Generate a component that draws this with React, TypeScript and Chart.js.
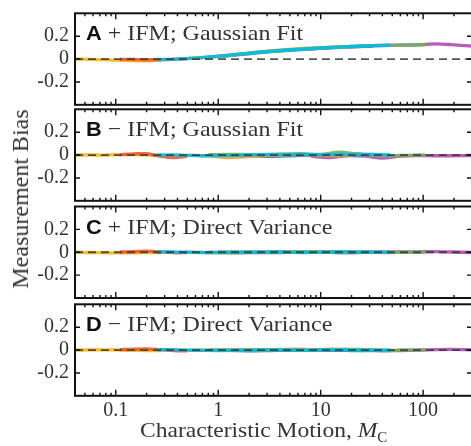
import { useEffect, useRef } from "react";
import { Chart, registerables } from "chart.js";
Chart.register(...registerables);

// ---- axis ticks ----
const xMin = 0.04;
const xMax = 300;
const xMajorTicks = [0.1, 1, 10, 100];
const xTickLabels = ["0.1", "1", "10", "100"];
const xMinorTicks = [
  0.05, 0.06, 0.07, 0.08, 0.09,
  0.2, 0.3, 0.4, 0.5, 0.6, 0.7, 0.8, 0.9,
  2, 3, 4, 5, 6, 7, 8, 9,
  20, 30, 40, 50, 60, 70, 80, 90,
  200, 300,
];
const yMin = -0.4;
const yMax = 0.4;
const yTicks = [-0.2, 0, 0.2];
const yTickLabels = ["-0.2", "0", "0.2"];

// ---- panels ----
const panelLetters = ["A", "B", "C", "D"];
const panelTexts = [" + IFM; Gaussian Fit", " \u2212 IFM; Gaussian Fit", " + IFM; Direct Variance", " \u2212 IFM; Direct Variance"];

// ---- series (drawn top-first) ----
const seriesNames = ["cyan", "green", "red", "yellow", "orange", "blue", "magenta"];
const seriesColors = [
  "rgba(0,189,232,0.9)",
  "rgba(114,181,90,0.9)",
  "rgba(238,90,42,0.9)",
  "rgba(253,181,21,0.9)",
  "rgba(245,160,35,0.9)",
  "rgba(44,109,201,0.9)",
  "rgba(176,76,179,0.9)",
];
const xCyan = [0.25, 0.35, 0.5, 0.7, 1, 1.5, 2.2, 3.2, 4.7, 7, 10, 15, 22, 32, 48];
const xGreen = [0.8, 1.3, 2, 3, 4.5, 6.5, 10, 15, 22, 32, 48, 70, 105];
const xRed = [0.11, 0.15, 0.2, 0.27, 0.37, 0.5];
const xYellow = [0.04, 0.055, 0.075, 0.1, 0.14, 0.2, 0.28];
const xOrange = [0.5, 0.8, 1.2, 1.8, 2.7, 4, 6, 9, 13, 20];
const xBlue = [1, 1.5, 2.2, 3.2, 4.7, 7, 10, 15, 22, 32];
const xMagenta = [8, 12, 18, 27, 40, 60, 90, 130, 190, 300];
const seriesX = [xCyan, xGreen, xRed, xYellow, xOrange, xBlue, xMagenta];

// Panel A: + IFM; Gaussian Fit
const panelAValues = [
  [-0.004, -0.002, 0.003, 0.012, 0.025, 0.04, 0.055, 0.068, 0.079, 0.088, 0.097, 0.105, 0.112, 0.117, 0.121],
  [0.015, 0.033, 0.05, 0.066, 0.077, 0.086, 0.096, 0.104, 0.111, 0.117, 0.122, 0.124, 0.125],
  [-0.002, -0.004, -0.006, -0.006, -0.003, 0.003],
  [0, -0.002, -0.005, -0.01, -0.014, -0.015, -0.01],
  [0.006, 0.018, 0.032, 0.048, 0.064, 0.078, 0.089, 0.097, 0.104, 0.11],
  [0.022, 0.036, 0.05, 0.064, 0.075, 0.085, 0.094, 0.102, 0.109, 0.114],
  [0.09, 0.099, 0.106, 0.112, 0.117, 0.121, 0.125, 0.132, 0.126, 0.113],
];
// Panel B: - IFM; Gaussian Fit
const panelBValues = [
  [0, 0.002, -0.003, -0.006, -0.005, -0.002, 0.002, 0.004, 0.002, 0.006, 0.003, 0.005, 0.002, 0.006, 0.002],
  [0.003, 0.006, 0.004, 0.006, 0.01, 0.012, 0.006, 0.025, 0.012, -0.002, -0.006, -0.002, 0],
  [0.004, 0.01, 0.012, -0.01, -0.022, -0.01],
  [0, 0.001, 0, 0.003, 0.004, 0.002, -0.003],
  [0, -0.008, -0.022, -0.015, -0.006, -0.002, 0.003, 0, -0.004, 0],
  [0, -0.004, -0.008, -0.012, -0.006, -0.002, 0.002, 0.004, 0.008, 0.004],
  [-0.01, -0.022, -0.006, -0.01, -0.026, -0.01, -0.004, -0.006, -0.006, -0.004],
];
// Panel C: + IFM; Direct Variance
const panelCValues = [
  [0.004, 0.002, 0, -0.002, -0.003, -0.002, 0, 0.002, 0.001, -0.002, 0, 0.002, 0.001, -0.001, 0],
  [0, 0.002, 0.003, 0.001, 0.003, 0.002, 0, 0.002, 0.004, 0.001, -0.002, -0.001, 0],
  [0.002, 0.006, 0.01, 0.004, -0.004, -0.002],
  [0, -0.002, -0.004, -0.006, -0.005, -0.004, -0.002],
  [0, -0.003, -0.005, -0.002, 0.002, 0.004, 0.003, 0.005, 0.002, 0],
  [0, -0.002, -0.004, -0.003, -0.001, 0.001, 0, -0.003, -0.002, 0],
  [0.001, 0, -0.002, 0.001, 0.003, 0.002, 0.004, 0.006, 0.002, -0.002],
];
// Panel D: - IFM; Direct Variance
const panelDValues = [
  [0.003, 0.004, 0, -0.003, -0.005, -0.003, 0, 0.002, 0, -0.002, 0.002, 0.003, -0.002, -0.004, 0],
  [0.001, 0, -0.002, 0.002, 0.004, 0.002, 0.001, 0.004, 0.006, 0.002, -0.002, 0.002, 0],
  [0.003, 0.008, 0.01, 0.004, -0.004, -0.008],
  [0, 0.001, 0.002, 0.001, -0.002, -0.004, -0.005],
  [0, 0, 0.002, 0.004, 0.002, 0.006, 0.008, 0.004, 0.008, 0.004],
  [0, -0.004, -0.006, -0.004, -0.002, 0, -0.003, -0.002, -0.005, -0.002],
  [0, 0.002, 0.003, 0.001, -0.006, -0.004, 0, 0.004, 0.006, 0.002],
];
const panelValues = [panelAValues, panelBValues, panelCValues, panelDValues];

// ---- layout (px) ----
const W = 471;
const H = 446;
const CANVAS_W = 480;
const plotLeft = 75;
const plotRight = 472;
const panelTops = [13.3, 109.3, 206.5, 304.3];
const panelHeight = 91.5;
const xAxisHeight = 30;

const SERIF = '"Liberation Serif", "Times New Roman", Times, serif';
const SANS = '"Liberation Sans", Arial, Helvetica, sans-serif';

function makeFramePlugin(idx: number) {
  return {
    id: "frame" + idx,
    afterDatasetsDraw(chart: any) {
      const { ctx, chartArea } = chart;
      const { left, right, top, bottom } = chartArea;
      const xs = chart.scales.x;
      const ys = chart.scales.y;
      ctx.save();
      // zero reference line
      const y0 = ys.getPixelForValue(0);
      ctx.strokeStyle = "rgba(55,55,55,0.85)";
      ctx.lineWidth = 1.8;
      ctx.setLineDash([8, 5]);
      ctx.beginPath();
      ctx.moveTo(left, y0);
      ctx.lineTo(right, y0);
      ctx.stroke();
      ctx.setLineDash([]);
      // inward ticks
      ctx.strokeStyle = "#111";
      ctx.lineWidth = 1.4;
      ctx.beginPath();
      const addX = (v: number, len: number) => {
        const px = xs.getPixelForValue(v);
        ctx.moveTo(px, top);
        ctx.lineTo(px, top + len);
        ctx.moveTo(px, bottom);
        ctx.lineTo(px, bottom - len);
      };
      xMinorTicks.forEach((v) => addX(v, 3));
      xMajorTicks.forEach((v) => addX(v, 6));
      yTicks.forEach((v) => {
        const py = ys.getPixelForValue(v);
        ctx.moveTo(left, py);
        ctx.lineTo(left + 5, py);
        ctx.moveTo(right, py);
        ctx.lineTo(right - 5, py);
      });
      ctx.stroke();
      // frame
      ctx.lineWidth = 2;
      ctx.strokeStyle = "#111";
      ctx.strokeRect(left, top, right - left, bottom - top);
      // panel label
      const lx = left + 11;
      const ly = top + 27;
      ctx.translate(lx, ly);
      ctx.scale(1.09, 1);
      ctx.fillStyle = "#111";
      ctx.textBaseline = "alphabetic";
      ctx.textAlign = "left";
      ctx.font = "bold 20px " + SANS;
      ctx.fillText(panelLetters[idx], 0, 0);
      const w = ctx.measureText(panelLetters[idx]).width;
      ctx.fillStyle = "#333";
      ctx.font = "22px " + SERIF;
      ctx.fillText(panelTexts[idx], w, 0);
      ctx.restore();
    },
  };
}

function Panel({ idx }: { idx: number }) {
  const ref = useRef<HTMLCanvasElement>(null);
  useEffect(() => {
    const canvas = ref.current;
    if (!canvas) return;
    const isBottom = idx === 3;
    const top = panelTops[idx];
    const bottomPad = H - (top + panelHeight) - (isBottom ? xAxisHeight : 0);
    const datasets = seriesNames.map((name, s) => ({
      label: name,
      data: seriesX[s].map((x, k) => ({ x, y: panelValues[idx][s][k] })),
      borderColor: seriesColors[s],
      backgroundColor: seriesColors[s],
      borderWidth: 3.3,
      pointRadius: 0,
      tension: 0.35,
      fill: false,
    }));
    const chart = new Chart(canvas, {
      type: "line",
      data: { datasets },
      options: {
        animation: false,
        responsive: false,
        maintainAspectRatio: false,
        events: [],
        layout: { padding: { left: 0, right: CANVAS_W - plotRight, top, bottom: bottomPad } },
        plugins: { legend: { display: false }, tooltip: { enabled: false } },
        scales: {
          x: {
            type: "logarithmic",
            min: xMin,
            max: xMax,
            grid: { display: false, drawTicks: false },
            border: { display: false },
            afterBuildTicks: (scale: any) => {
              scale.ticks = xMajorTicks.map((v) => ({ value: v, major: true }));
            },
            afterFit: (scale: any) => {
              scale.height = isBottom ? xAxisHeight : 0;
              scale.paddingLeft = 0;
              scale.paddingRight = 0;
              scale.paddingTop = 0;
              scale.paddingBottom = 0;
            },
            ticks: {
              display: isBottom,
              autoSkip: false,
              maxRotation: 0,
              padding: 3,
              color: "#333",
              font: { family: SERIF, size: 20 },
              callback: (v: any) => {
                const i = xMajorTicks.indexOf(Number(v));
                return i >= 0 ? xTickLabels[i] : "";
              },
            },
          },
          y: {
            type: "linear",
            min: yMin,
            max: yMax,
            grid: { display: false, drawTicks: false },
            border: { display: false },
            afterBuildTicks: (scale: any) => {
              scale.ticks = yTicks.map((v) => ({ value: v }));
            },
            afterFit: (scale: any) => {
              scale.width = plotLeft;
              scale.paddingTop = 0;
              scale.paddingBottom = 0;
              scale.paddingLeft = 0;
              scale.paddingRight = 0;
            },
            ticks: {
              padding: 6,
              color: "#333",
              font: { family: SERIF, size: 20 },
              callback: (v: any) => {
                const i = yTicks.indexOf(Number(v));
                return i >= 0 ? yTickLabels[i] : "";
              },
            },
          },
        },
      },
      plugins: [makeFramePlugin(idx)],
    } as any);
    return () => chart.destroy();
  }, [idx]);
  return (
    <canvas
      ref={ref}
      width={CANVAS_W}
      height={H}
      style={{ position: "absolute", left: 0, top: 0, width: CANVAS_W, height: H }}
    />
  );
}

export default function App() {
  return (
    <div
      style={{
        position: "absolute",
        left: 0,
        top: 0,
        width: W,
        height: H,
        overflow: "hidden",
        background: "#fff",
      }}
    >
      {[0, 1, 2, 3].map((i) => (
        <Panel key={i} idx={i} />
      ))}
      <div
        style={{
          position: "absolute",
          left: 19.5,
          top: 199,
          transform: "translate(-50%, -50%) rotate(-90deg)",
          whiteSpace: "nowrap",
          fontFamily: SERIF,
          fontSize: 24,
          lineHeight: "24px",
          color: "#333",
        }}
      >
        Measurement Bias
      </div>
      <div
        style={{
          position: "absolute",
          left: 140,
          top: 419,
          whiteSpace: "nowrap",
          fontFamily: SERIF,
          fontSize: 22,
          lineHeight: "22px",
          color: "#333",
          transform: "scaleX(1.07)",
          transformOrigin: "left center",
        }}
      >
        Characteristic Motion, <i>M</i>
        <sub style={{ fontSize: 14, verticalAlign: "-5px" }}>C</sub>
      </div>
    </div>
  );
}
